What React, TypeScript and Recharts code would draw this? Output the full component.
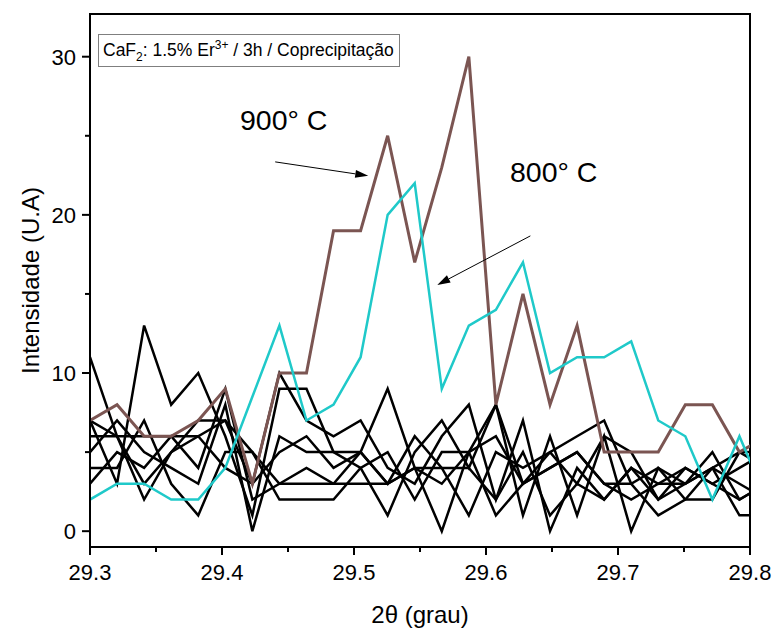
import React from "react";
import {
  LineChart,
  Line,
  XAxis,
  YAxis,
  ReferenceArea,
  ReferenceLine,
} from "recharts";

// 2-theta positions (deg)
const twoTheta = [
  29.3, 29.3205, 29.341, 29.3615, 29.382, 29.4025, 29.423, 29.4435, 29.464,
  29.4845, 29.505, 29.5255, 29.546, 29.5665, 29.587, 29.6075, 29.628, 29.6485,
  29.669, 29.6895, 29.71, 29.7305, 29.751, 29.7715, 29.792, 29.8125,
];

const t900 = [7, 8, 6, 6, 7, 9, 3, 10, 10, 19, 19, 25, 17, 23, 30, 8, 15, 8, 13, 5, 5, 5, 8, 8, 5, 6];
const t800 = [2, 3, 3, 2, 2, 4, 8.5, 13, 7, 8, 11, 20, 22, 9, 13, 14, 17, 10, 11, 11, 12, 7, 6, 2, 6, 2];

// other runs, all drawn in black
const blackRuns = [
  [11, 6, 2, 5, 7, 7, 5, 3, 3, 3, 5, 9, 4, 0, 5, 8, 3, 5, 6, 7, 3, 1, 2, 4, 5, 4],
  [7, 3, 13, 8, 10, 6, 1, 9, 9, 5, 4, 1, 5, 7, 4, 8, 1, 6, 1, 6, 0, 4, 3, 5, 2, 3],
  [6, 6, 6, 6, 6, 7, 3, 10, 7, 6, 7, 4, 3, 6, 8, 2, 7, 0, 4, 2, 4, 3, 4, 3, 4, 5],
  [5, 7, 5, 4, 3, 8, 0, 6, 5, 5, 5, 3, 6, 4, 1, 5, 4, 5, 3, 6, 5, 2, 3, 4, 1, 1],
  [4, 4, 7, 3, 1, 5, 5, 2, 2, 2, 4, 5, 2, 5, 5, 1, 3, 4, 5, 3, 3, 4, 2, 2, 5, 5],
  [3, 5, 4, 6, 4, 9, 2, 3, 4, 3, 3, 3, 4, 4, 4, 2, 5, 1, 3, 2, 4, 2, 4, 3, 2, 3],
  [7, 6, 3, 5, 6, 4, 3, 5, 6, 4, 5, 3, 4, 3, 5, 6, 3, 4, 5, 3, 2, 3, 3, 4, 3, 2],
];

const xTicks = [29.3, 29.35, 29.4, 29.45, 29.5, 29.55, 29.6, 29.65, 29.7, 29.75, 29.8];
const xMajor = [29.3, 29.4, 29.5, 29.6, 29.7, 29.8];
const yTicks = [0, 5, 10, 15, 20, 25, 30];
const yMajor = [0, 10, 20, 30];

// arrow annotations [x1, y1, x2, y2] in data units
const arrow900 = [29.4403, 23.35, 29.5108, 22.47];
const arrow800 = [29.6336, 18.67, 29.5631, 15.57];

const data = twoTheta.map((x, i) => {
  const row: Record<string, number> = { x, t900: t900[i], t800: t800[i] };
  blackRuns.forEach((r, k) => (row[`b${k}`] = r[i]));
  return row;
});

const FONT = '"Liberation Sans", Arial, sans-serif';

const isMajor = (list: number[], v: number) => list.some((m) => Math.abs(m - v) < 1e-6);

const XTick = (props: any) => {
  const { x, y, payload } = props;
  const major = isMajor(xMajor, payload.value);
  return (
    <g>
      <line x1={x} y1={y} x2={x} y2={y + (major ? 8 : 5)} stroke="#000" strokeWidth={2} />
      {major && (
        <text x={x} y={y + 33} textAnchor="middle" fontSize={22} fontFamily={FONT} fill="#000">
          {payload.value.toFixed(1)}
        </text>
      )}
    </g>
  );
};

const YTick = (props: any) => {
  const { x, y, payload } = props;
  const major = isMajor(yMajor, payload.value);
  return (
    <g>
      <line x1={x} y1={y} x2={x - (major ? 8 : 5)} y2={y} stroke="#000" strokeWidth={2} />
      {major && (
        <text x={x - 14} y={y + 8} textAnchor="end" fontSize={22} fontFamily={FONT} fill="#000">
          {payload.value}
        </text>
      )}
    </g>
  );
};

const Arrow = (props: any) => {
  const { x1, y1, x2, y2 } = props;
  const ang = Math.atan2(y2 - y1, x2 - x1);
  const len = 13;
  const hw = 4;
  const bx = x2 - len * Math.cos(ang);
  const by = y2 - len * Math.sin(ang);
  const px = -Math.sin(ang) * hw;
  const py = Math.cos(ang) * hw;
  return (
    <g>
      <line x1={x1} y1={y1} x2={bx} y2={by} stroke="#000" strokeWidth={1} />
      <polygon points={`${x2},${y2} ${bx + px},${by + py} ${bx - px},${by - py}`} fill="#000" />
    </g>
  );
};

export default function App() {
  return (
    <div style={{ position: "relative", width: 772, height: 633, fontFamily: FONT }}>
      <style>{"html, body { margin: 0; overflow: hidden; } .recharts-surface { overflow: visible; }"}</style>
      <LineChart width={772} height={633} data={data} margin={{ top: 14, right: 22, bottom: 0, left: 8 }}>
        <XAxis
          dataKey="x"
          type="number"
          domain={[29.3, 29.8]}
          allowDataOverflow
          ticks={xTicks}
          interval={0}
          tickSize={0}
          tickMargin={0}
          tickLine={false}
          tick={<XTick />}
          height={86}
          axisLine={{ stroke: "#000", strokeWidth: 2 }}
          label={{
            content: (p: any) => {
              const vb = p.viewBox;
              return (
                <text x={vb.x + vb.width / 2} y={vb.y + 76} textAnchor="middle" fontSize={24} fontFamily={FONT} fill="#000">
                  2θ (grau)
                </text>
              );
            },
          }}
        />
        <YAxis
          type="number"
          domain={[-1, 32.7]}
          allowDataOverflow
          ticks={yTicks}
          interval={0}
          tickSize={0}
          tickMargin={0}
          tickLine={false}
          tick={<YTick />}
          width={82}
          axisLine={{ stroke: "#000", strokeWidth: 2 }}
          label={{
            content: (p: any) => {
              const vb = p.viewBox;
              const cx = 39;
              const cy = vb.y + vb.height / 2;
              return (
                <text x={cx} y={cy} transform={`rotate(-90 ${cx} ${cy})`} textAnchor="middle" fontSize={24} fontFamily={FONT} fill="#000">
                  Intensidade (U.A)
                </text>
              );
            },
          }}
        />
        <ReferenceArea x1={29.3} x2={29.8} y1={-1} y2={32.7} fill="none" stroke="#000" strokeWidth={2} />
        {blackRuns.map((_, k) => (
          <Line
            key={k}
            dataKey={`b${k}`}
            type="linear"
            stroke="#000"
            strokeWidth={2.5}
            dot={false}
            isAnimationActive={false}
          />
        ))}
        <Line dataKey="t900" type="linear" stroke="#7b5552" strokeWidth={3} dot={false} isAnimationActive={false} />
        <Line dataKey="t800" type="linear" stroke="#1fc9c9" strokeWidth={2.5} dot={false} isAnimationActive={false} />
        <ReferenceLine
          segment={[
            { x: arrow900[0], y: arrow900[1] },
            { x: arrow900[2], y: arrow900[3] },
          ]}
          shape={(p: any) => <Arrow {...p} />}
        />
        <ReferenceLine
          segment={[
            { x: arrow800[0], y: arrow800[1] },
            { x: arrow800[2], y: arrow800[3] },
          ]}
          shape={(p: any) => <Arrow {...p} />}
        />
      </LineChart>
      <div
        style={{
          position: "absolute",
          left: 98,
          top: 34,
          width: 296,
          height: 31,
          border: "1px solid #7f7f7f",
          background: "#fff",
          fontSize: 17.5,
          lineHeight: "31px",
          paddingLeft: 4,
          boxSizing: "content-box",
          whiteSpace: "nowrap",
        }}
      >
        CaF<sub style={{ fontSize: 12, lineHeight: 0 }}>2</sub>: 1.5% Er<sup style={{ fontSize: 12, lineHeight: 0 }}>3+</sup> / 3h / Coprecipitação
      </div>
      <div style={{ position: "absolute", left: 240, top: 105, fontSize: 28.5, lineHeight: "30px" }}>900° C</div>
      <div style={{ position: "absolute", left: 510, top: 157, fontSize: 28.5, lineHeight: "30px" }}>800° C</div>
    </div>
  );
}
